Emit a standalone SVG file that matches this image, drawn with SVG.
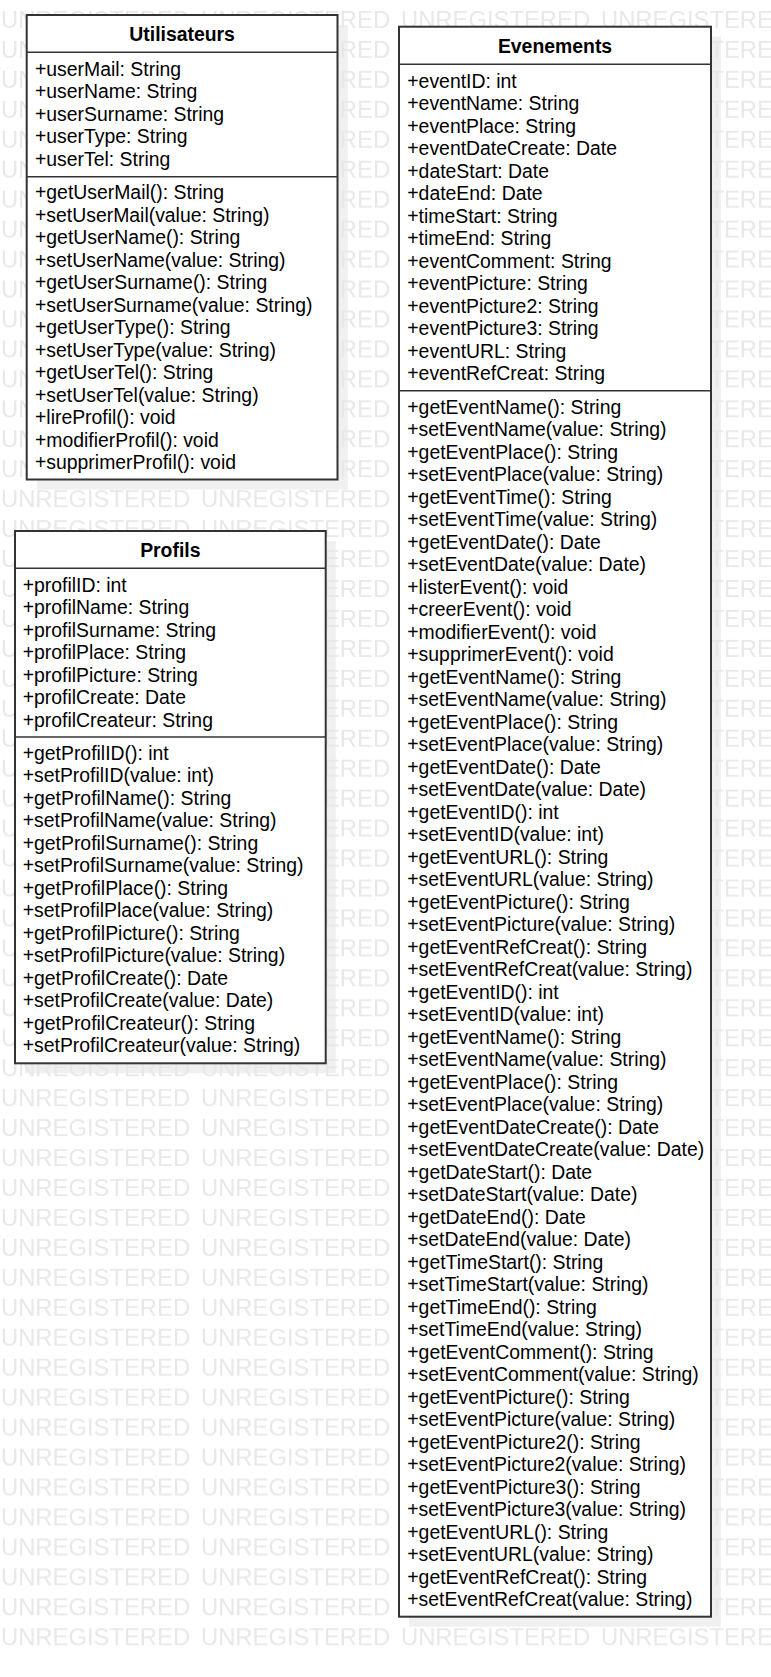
<svg xmlns="http://www.w3.org/2000/svg" width="771" height="1677" viewBox="0 0 771 1677">
<style>
.bg{fill:#ffffff}
.shadow{fill:#f0f0f0}
.wm{font-family:"Liberation Sans",Arial,sans-serif;font-size:23.8px;fill:#e8e8e8}
.box{fill:#ffffff;stroke:#333333;stroke-width:2}
.sep{stroke:#333333;stroke-width:1.6;fill:none}
.hd{font-family:"Liberation Sans",Arial,sans-serif;font-size:19.4px;font-weight:bold;fill:#000000;text-anchor:middle}
.t{font-family:"Liberation Sans",Arial,sans-serif;font-size:19.4px;fill:#000000}
</style>
<defs>
<pattern id="wmp" x="0" y="0" width="200" height="29.95" patternUnits="userSpaceOnUse">
<text class="wm" x="1" y="27.5">UNREGISTERED</text>
</pattern>
</defs>
<rect class="bg" x="0" y="0" width="771" height="1677"/>
<g id="shadows">
<rect class="shadow" x="37" y="25" width="310.8" height="464.5"/>
<rect class="shadow" x="409" y="36.7" width="312" height="1590"/>
<rect class="shadow" x="25" y="541" width="310.7" height="532.3"/>
</g>
<rect x="0" y="0" width="771" height="1650" fill="url(#wmp)"/>
<g id="connectors"></g>
<g id="Utilisateurs">
<rect class="box" x="26.7" y="15" width="310.8" height="464.5"/>
<line class="sep" x1="26.7" y1="52.3" x2="337.5" y2="52.3"/>
<line class="sep" x1="26.7" y1="176.7" x2="337.5" y2="176.7"/>
<text class="hd" x="182.1" y="40.7">Utilisateurs</text>
<text class="t" x="35" y="75.7">+userMail: String</text>
<text class="t" x="35" y="98.2">+userName: String</text>
<text class="t" x="35" y="120.7">+userSurname: String</text>
<text class="t" x="35" y="143.2">+userType: String</text>
<text class="t" x="35" y="165.7">+userTel: String</text>
<text class="t" x="35" y="199.3">+getUserMail(): String</text>
<text class="t" x="35" y="221.8">+setUserMail(value: String)</text>
<text class="t" x="35" y="244.3">+getUserName(): String</text>
<text class="t" x="35" y="266.8">+setUserName(value: String)</text>
<text class="t" x="35" y="289.3">+getUserSurname(): String</text>
<text class="t" x="35" y="311.8">+setUserSurname(value: String)</text>
<text class="t" x="35" y="334.3">+getUserType(): String</text>
<text class="t" x="35" y="356.8">+setUserType(value: String)</text>
<text class="t" x="35" y="379.3">+getUserTel(): String</text>
<text class="t" x="35" y="401.8">+setUserTel(value: String)</text>
<text class="t" x="35" y="424.3">+lireProfil(): void</text>
<text class="t" x="35" y="446.8">+modifierProfil(): void</text>
<text class="t" x="35" y="469.3">+supprimerProfil(): void</text>
</g>
<g id="Profils">
<rect class="box" x="15" y="531" width="310.7" height="532.3"/>
<line class="sep" x1="15" y1="568.3" x2="325.7" y2="568.3"/>
<line class="sep" x1="15" y1="737" x2="325.7" y2="737"/>
<text class="hd" x="170.3" y="556.9">Profils</text>
<text class="t" x="22.7" y="591.5">+profilID: int</text>
<text class="t" x="22.7" y="614">+profilName: String</text>
<text class="t" x="22.7" y="636.5">+profilSurname: String</text>
<text class="t" x="22.7" y="659">+profilPlace: String</text>
<text class="t" x="22.7" y="681.5">+profilPicture: String</text>
<text class="t" x="22.7" y="704">+profilCreate: Date</text>
<text class="t" x="22.7" y="726.5">+profilCreateur: String</text>
<text class="t" x="22.7" y="759.7">+getProfilID(): int</text>
<text class="t" x="22.7" y="782.2">+setProfilID(value: int)</text>
<text class="t" x="22.7" y="804.7">+getProfilName(): String</text>
<text class="t" x="22.7" y="827.2">+setProfilName(value: String)</text>
<text class="t" x="22.7" y="849.7">+getProfilSurname(): String</text>
<text class="t" x="22.7" y="872.2">+setProfilSurname(value: String)</text>
<text class="t" x="22.7" y="894.7">+getProfilPlace(): String</text>
<text class="t" x="22.7" y="917.2">+setProfilPlace(value: String)</text>
<text class="t" x="22.7" y="939.7">+getProfilPicture(): String</text>
<text class="t" x="22.7" y="962.2">+setProfilPicture(value: String)</text>
<text class="t" x="22.7" y="984.7">+getProfilCreate(): Date</text>
<text class="t" x="22.7" y="1007.2">+setProfilCreate(value: Date)</text>
<text class="t" x="22.7" y="1029.7">+getProfilCreateur(): String</text>
<text class="t" x="22.7" y="1052.2">+setProfilCreateur(value: String)</text>
</g>
<g id="Evenements">
<rect class="box" x="399" y="26.7" width="312" height="1590"/>
<line class="sep" x1="399" y1="64.3" x2="711" y2="64.3"/>
<line class="sep" x1="399" y1="390.7" x2="711" y2="390.7"/>
<text class="hd" x="555" y="52.7">Evenements</text>
<text class="t" x="407.3" y="87.5">+eventID: int</text>
<text class="t" x="407.3" y="110">+eventName: String</text>
<text class="t" x="407.3" y="132.5">+eventPlace: String</text>
<text class="t" x="407.3" y="155">+eventDateCreate: Date</text>
<text class="t" x="407.3" y="177.5">+dateStart: Date</text>
<text class="t" x="407.3" y="200">+dateEnd: Date</text>
<text class="t" x="407.3" y="222.5">+timeStart: String</text>
<text class="t" x="407.3" y="245">+timeEnd: String</text>
<text class="t" x="407.3" y="267.5">+eventComment: String</text>
<text class="t" x="407.3" y="290">+eventPicture: String</text>
<text class="t" x="407.3" y="312.5">+eventPicture2: String</text>
<text class="t" x="407.3" y="335">+eventPicture3: String</text>
<text class="t" x="407.3" y="357.5">+eventURL: String</text>
<text class="t" x="407.3" y="380">+eventRefCreat: String</text>
<text class="t" x="407.3" y="413.5">+getEventName(): String</text>
<text class="t" x="407.3" y="436">+setEventName(value: String)</text>
<text class="t" x="407.3" y="458.5">+getEventPlace(): String</text>
<text class="t" x="407.3" y="481">+setEventPlace(value: String)</text>
<text class="t" x="407.3" y="503.5">+getEventTime(): String</text>
<text class="t" x="407.3" y="526">+setEventTime(value: String)</text>
<text class="t" x="407.3" y="548.5">+getEventDate(): Date</text>
<text class="t" x="407.3" y="571">+setEventDate(value: Date)</text>
<text class="t" x="407.3" y="593.5">+listerEvent(): void</text>
<text class="t" x="407.3" y="616">+creerEvent(): void</text>
<text class="t" x="407.3" y="638.5">+modifierEvent(): void</text>
<text class="t" x="407.3" y="661">+supprimerEvent(): void</text>
<text class="t" x="407.3" y="683.5">+getEventName(): String</text>
<text class="t" x="407.3" y="706">+setEventName(value: String)</text>
<text class="t" x="407.3" y="728.5">+getEventPlace(): String</text>
<text class="t" x="407.3" y="751">+setEventPlace(value: String)</text>
<text class="t" x="407.3" y="773.5">+getEventDate(): Date</text>
<text class="t" x="407.3" y="796">+setEventDate(value: Date)</text>
<text class="t" x="407.3" y="818.5">+getEventID(): int</text>
<text class="t" x="407.3" y="841">+setEventID(value: int)</text>
<text class="t" x="407.3" y="863.5">+getEventURL(): String</text>
<text class="t" x="407.3" y="886">+setEventURL(value: String)</text>
<text class="t" x="407.3" y="908.5">+getEventPicture(): String</text>
<text class="t" x="407.3" y="931">+setEventPicture(value: String)</text>
<text class="t" x="407.3" y="953.5">+getEventRefCreat(): String</text>
<text class="t" x="407.3" y="976">+setEventRefCreat(value: String)</text>
<text class="t" x="407.3" y="998.5">+getEventID(): int</text>
<text class="t" x="407.3" y="1021">+setEventID(value: int)</text>
<text class="t" x="407.3" y="1043.5">+getEventName(): String</text>
<text class="t" x="407.3" y="1066">+setEventName(value: String)</text>
<text class="t" x="407.3" y="1088.5">+getEventPlace(): String</text>
<text class="t" x="407.3" y="1111">+setEventPlace(value: String)</text>
<text class="t" x="407.3" y="1133.5">+getEventDateCreate(): Date</text>
<text class="t" x="407.3" y="1156">+setEventDateCreate(value: Date)</text>
<text class="t" x="407.3" y="1178.5">+getDateStart(): Date</text>
<text class="t" x="407.3" y="1201">+setDateStart(value: Date)</text>
<text class="t" x="407.3" y="1223.5">+getDateEnd(): Date</text>
<text class="t" x="407.3" y="1246">+setDateEnd(value: Date)</text>
<text class="t" x="407.3" y="1268.5">+getTimeStart(): String</text>
<text class="t" x="407.3" y="1291">+setTimeStart(value: String)</text>
<text class="t" x="407.3" y="1313.5">+getTimeEnd(): String</text>
<text class="t" x="407.3" y="1336">+setTimeEnd(value: String)</text>
<text class="t" x="407.3" y="1358.5">+getEventComment(): String</text>
<text class="t" x="407.3" y="1381">+setEventComment(value: String)</text>
<text class="t" x="407.3" y="1403.5">+getEventPicture(): String</text>
<text class="t" x="407.3" y="1426">+setEventPicture(value: String)</text>
<text class="t" x="407.3" y="1448.5">+getEventPicture2(): String</text>
<text class="t" x="407.3" y="1471">+setEventPicture2(value: String)</text>
<text class="t" x="407.3" y="1493.5">+getEventPicture3(): String</text>
<text class="t" x="407.3" y="1516">+setEventPicture3(value: String)</text>
<text class="t" x="407.3" y="1538.5">+getEventURL(): String</text>
<text class="t" x="407.3" y="1561">+setEventURL(value: String)</text>
<text class="t" x="407.3" y="1583.5">+getEventRefCreat(): String</text>
<text class="t" x="407.3" y="1606">+setEventRefCreat(value: String)</text>
</g>
</svg>
